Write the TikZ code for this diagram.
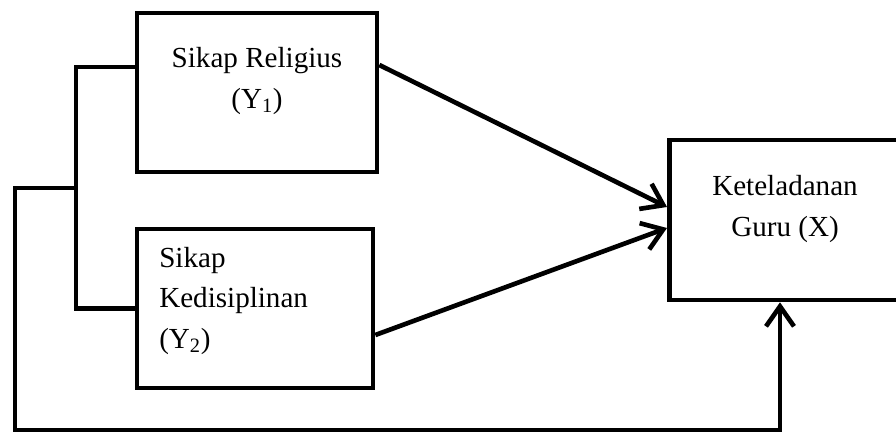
\documentclass[tikz,border=0pt]{standalone}
\usepackage{fontspec}
\setmainfont{Liberation Serif}
\usetikzlibrary{positioning,arrows.meta}

\tikzset{
  varbox/.style={draw, line width=3.3pt, rectangle, inner sep=0pt},
  lbl/.style={font=\fontsize{20.7}{28.5}\selectfont, inner sep=0pt},
  link/.style={line width=3.3pt},
  arr/.style={link, -{Straight Barb[length=0.5cm, width=0.7cm, line width=3.3pt]}}
}

\begin{document}
\begin{tikzpicture}
		\clip (0,0) rectangle (22.4,10.825);
		% boxes
		\node[varbox, minimum width=6cm, minimum height=3.975cm] (rel) at (6.425,8.51) {};
		\node[varbox, minimum width=5.9cm, minimum height=3.975cm] (disp) at (6.375,3.11) {};
		\node[varbox, minimum width=6.5cm, minimum height=4cm, anchor=west] (guru) at (16.675,5.325) {};

		% texts
		\node[lbl, align=center] (relt) at (6.425,8.8) {Sikap Religius\\(Y\textsubscript{1})};
		\node[lbl, align=left, anchor=west] (dispt) at (3.975,3.3) {Sikap\\Kedisiplinan\\(Y\textsubscript{2})};
		\node[lbl, align=center] (gurut) at (19.625,5.6) {Keteladanan\\Guru (X)};

		% branch on the left
		\coordinate (jtop) at (1.9,9.15);
		\coordinate (jbot) at (1.9,3.11);
		\coordinate (jmid) at (1.9,6.125);
		\draw[link] (rel.west |- jtop) -- (jtop) -- (jbot) -- (disp.west);
		\draw[arr] (jmid) -- (0.375,6.125) -- (0.375,0.075) -- (19.5,0.075) -- (19.5,0 |- guru.south);

		% arrows to X
		\draw[arr] (rel.east |- 0,9.2) -- (16.675,5.65);
		\draw[arr] (disp.east |- 0,2.45) -- (16.675,5.125);
	\end{tikzpicture}
\end{document}
